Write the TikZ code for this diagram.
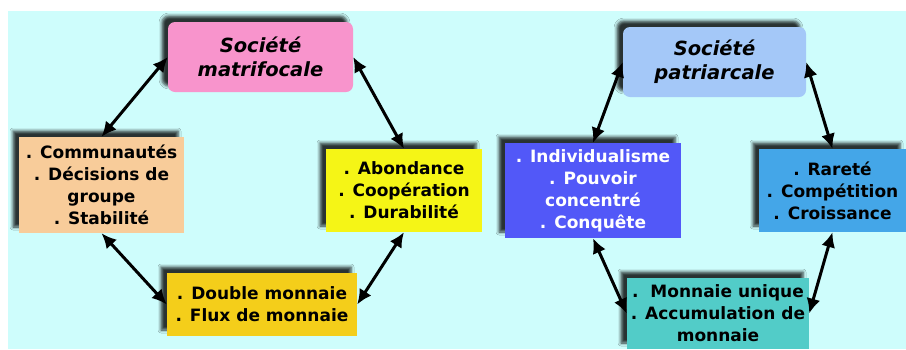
\documentclass[tikz,border=0pt]{standalone}
\usepackage{fontspec}
\setmainfont{DejaVu Sans}
\usepackage{tikz}
\usetikzlibrary{arrows.meta}
\usetikzlibrary{shadows.blur}
\definecolor{bgcyan}{RGB}{206,253,252}
\definecolor{matpink}{RGB}{248,148,204}
\definecolor{peach}{RGB}{248,204,154}
\definecolor{lemon}{RGB}{245,245,22}
\definecolor{gold}{RGB}{244,206,26}
\definecolor{skyblue}{RGB}{164,200,248}
\definecolor{violetblue}{RGB}{82,88,248}
\definecolor{midblue}{RGB}{68,166,232}
\definecolor{teal}{RGB}{82,204,200}

\begin{document}
\begin{tikzpicture}[x=1pt,y=-1pt,
    box/.style={inner sep=0pt, align=center, font=\fontsize{17}{22}\selectfont\bfseries,
        blur shadow={shadow xshift=-6pt, shadow yshift=6pt, shadow blur radius=3pt, shadow opacity=80}},
    title/.style={box, rounded corners=7pt, font=\fontsize{19.5}{24}\selectfont\bfseries\itshape},
    link/.style={line width=3pt, {Latex[length=15pt,width=14pt]}-{Latex[length=15pt,width=14pt]}}]
\useasboundingbox (0,0) rectangle (906,349);
\fill[bgcyan] (8,11) rectangle (906,349);
\node[title, fill=matpink, minimum width=185pt, minimum height=70pt] (mat) at (260.5,57) {Société\\matrifocale};
\node[box, fill=peach, minimum width=165pt, minimum height=96pt] (com) at (101.5,185) {. Communautés\\. Décisions de\\groupe\\. Stabilité};
\node[box, fill=lemon, minimum width=156pt, minimum height=83pt] (abo) at (404,190.5) {. Abondance\\. Coopération\\. Durabilité};
\node[box, fill=gold, minimum width=190pt, minimum height=63pt] (dbl) at (262,304.5) {. Double monnaie\\. Flux de monnaie};
\node[title, fill=skyblue, minimum width=183pt, minimum height=70pt] (pat) at (714.5,62) {Société\\patriarcale};
\node[box, fill=violetblue, text=white, minimum width=176pt, minimum height=95pt] (ind) at (593,190.5) {. Individualisme\\. Pouvoir\\concentré\\. Conquête};
\node[box, fill=midblue, minimum width=147pt, minimum height=83pt] (rar) at (832.5,190.5) {. Rareté\\. Compétition\\. Croissance};
\node[box, fill=teal, minimum width=182pt, minimum height=71pt] (mon) at (718,313.5) {.\ \ Monnaie unique\\. Accumulation de\\monnaie};
\draw[link] (mat.west) -- (com.north);
\draw[link] (mat.east) -- (abo.north);
\draw[link] (com.south) -- (dbl.west);
\draw[link] (abo.south) -- (dbl.east);
\draw[link] (pat.west) -- (ind.north);
\draw[link] (pat.east) -- (rar.north);
\draw[link] (ind.south) -- (mon.west);
\draw[link] (rar.south) -- (mon.east);
\end{tikzpicture}
\end{document}
